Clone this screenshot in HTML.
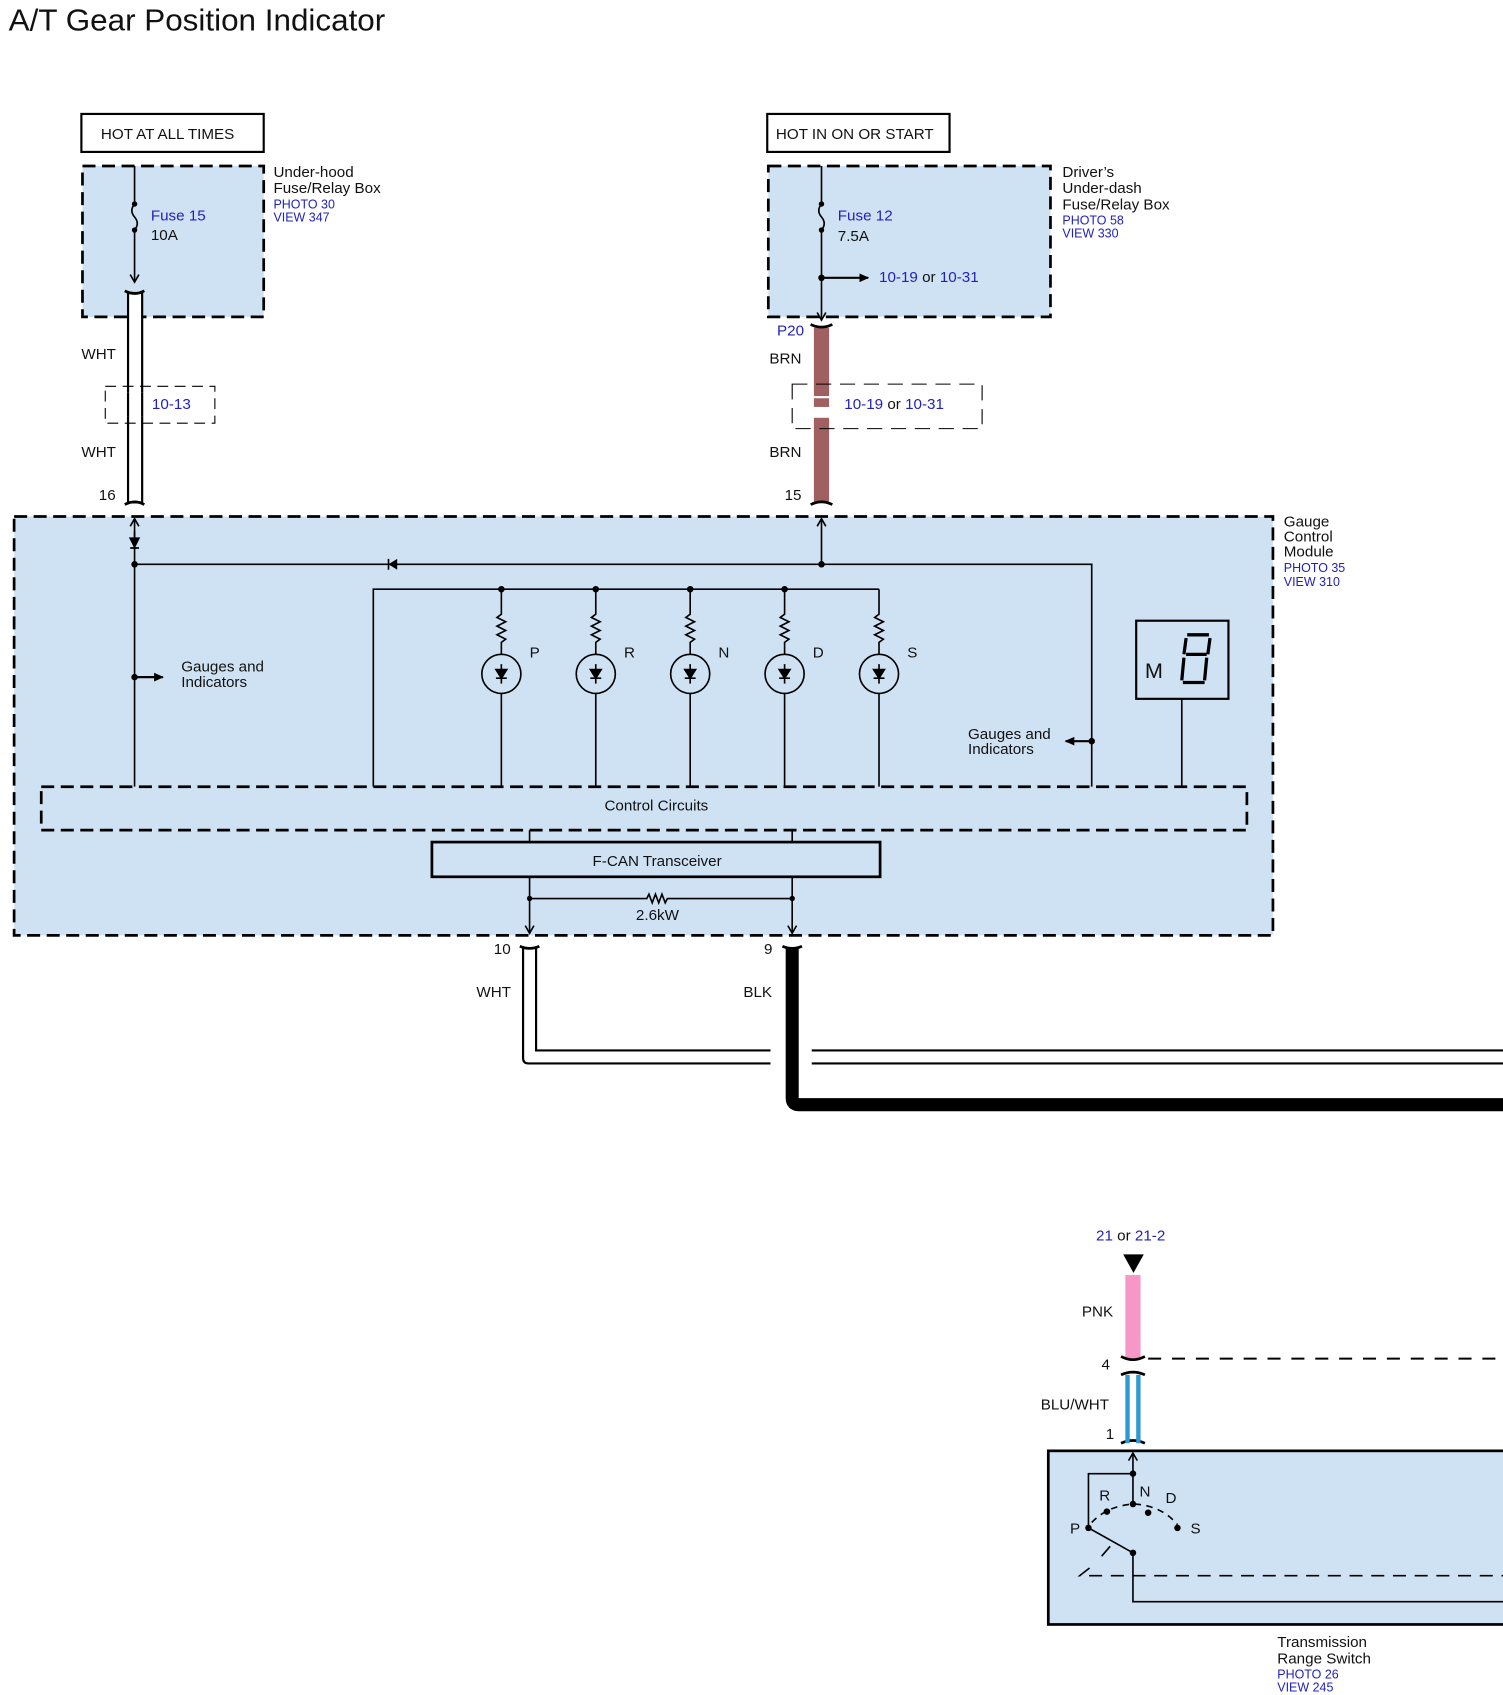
<!DOCTYPE html>
<html><head><meta charset="utf-8"><style>
html,body{margin:0;padding:0;background:#fff;}
svg{display:block}
text{font-family:"Liberation Sans",sans-serif;font-size:14px;fill:#111}
.b{fill:#2222bb}
.s{font-size:11.5px}
</style></head><body>
<svg width="1503" height="1695" viewBox="0 0 1385 1562" preserveAspectRatio="none" xmlns="http://www.w3.org/2000/svg">
<defs>
<marker id="a" markerWidth="10" markerHeight="10" refX="8" refY="5" orient="auto" markerUnits="userSpaceOnUse"><path d="M1,1 L8,5 L1,9" fill="none" stroke="#000" stroke-width="1.5"/></marker>
<marker id="af" markerWidth="10" markerHeight="10" refX="8" refY="5" orient="auto" markerUnits="userSpaceOnUse"><path d="M0,1 L9,5 L0,9z" fill="#000"/></marker>
</defs>
<text x="8" y="28" style="font-size:28px" textLength="347" lengthAdjust="spacingAndGlyphs">A/T Gear Position Indicator</text>

<!-- top left -->
<rect x="75" y="105" width="168" height="35" fill="#fff" stroke="#000" stroke-width="2"/>
<text x="93" y="128">HOT AT ALL TIMES</text>
<rect x="76" y="153" width="167" height="139" fill="#cfe2f3" stroke="#000" stroke-width="2.5" stroke-dasharray="12,6"/>
<text x="252" y="163">Under-hood</text><text x="252" y="178">Fuse/Relay Box</text>
<text x="252" y="192" class="b s">PHOTO 30</text><text x="252" y="204" class="b s">VIEW 347</text>
<path d="M124,153 V188 M124,212 V260" stroke="#000" stroke-width="1.5" marker-end="url(#a)"/>
<path d="M124,188 q-5,6 0,12 q5,6 0,12" stroke="#000" fill="none" stroke-width="1.5"/>
<circle cx="124" cy="188" r="2.5"/><circle cx="124" cy="212" r="2.5"/>
<text x="139" y="203" class="b">Fuse 15</text><text x="139" y="221">10A</text>
<rect x="118" y="270" width="13" height="193" fill="#fff" stroke="#000" stroke-width="2"/>
<path d="M115,268 q9,5 18,0 M115,465 q9,-5 18,0" stroke="#000" stroke-width="2.5" fill="none"/>
<text x="75" y="331">WHT</text><text x="75" y="421">WHT</text><text x="91" y="461">16</text>
<rect x="97" y="356" width="101" height="34" fill="none" stroke="#000" stroke-dasharray="10,6"/>
<rect x="112" y="362" width="26" height="22" fill="#fff"/>
<path d="M118,362 V384 M131,362 V384" stroke="#000" stroke-width="2"/>
<text x="140" y="377" class="b">10-13</text>

<!-- top middle -->
<rect x="707" y="105" width="168" height="35" fill="#fff" stroke="#000" stroke-width="2"/>
<text x="715" y="128">HOT IN ON OR START</text>
<rect x="708" y="153" width="260" height="139" fill="#cfe2f3" stroke="#000" stroke-width="2.5" stroke-dasharray="12,6"/>
<text x="979" y="163">Driver’s</text><text x="979" y="178">Under-dash</text><text x="979" y="193">Fuse/Relay Box</text>
<text x="979" y="207" class="b s">PHOTO 58</text><text x="979" y="219" class="b s">VIEW 330</text>
<path d="M757,153 V188 M757,212 V295" stroke="#000" stroke-width="1.5" marker-end="url(#a)"/>
<path d="M757,188 q-5,6 0,12 q5,6 0,12" stroke="#000" fill="none" stroke-width="1.5"/>
<circle cx="757" cy="188" r="2.5"/><circle cx="757" cy="212" r="2.5"/><circle cx="757" cy="256" r="3"/>
<path d="M757,256 H800" stroke="#000" stroke-width="2" marker-end="url(#af)"/>
<text x="772" y="203" class="b">Fuse 12</text><text x="772" y="222">7.5A</text>
<text x="810" y="260"><tspan class="b">10-19</tspan> or <tspan class="b">10-31</tspan></text>
<text x="716" y="309" class="b">P20</text>
<rect x="750" y="302" width="14" height="161" fill="#a0605f"/>
<path d="M747,299 q10,5 20,0 M747,465 q10,-5 20,0" stroke="#000" stroke-width="2.5" fill="none"/>
<text x="709" y="335">BRN</text><text x="709" y="421">BRN</text><text x="723" y="461">15</text>
<rect x="730" y="354" width="175" height="41" fill="none" stroke="#000" stroke-dasharray="14,8"/>
<rect x="745" y="365" width="24" height="20" fill="#fff"/>
<rect x="750" y="367" width="14" height="8" fill="#a0605f"/>
<text x="778" y="377"><tspan class="b">10-19</tspan> or <tspan class="b">10-31</tspan></text>

<!-- Gauge control module -->
<rect x="13" y="476" width="1160" height="386" fill="#cfe2f3" stroke="#000" stroke-width="2.5" stroke-dasharray="12,6"/>
<text x="1183" y="485">Gauge</text><text x="1183" y="499">Control</text><text x="1183" y="513">Module</text>
<text x="1183" y="527" class="b s">PHOTO 35</text><text x="1183" y="540" class="b s">VIEW 310</text>
<g stroke="#000" stroke-width="1.5" fill="none">
<path d="M124,725 V478" marker-end="url(#a)"/>
<path d="M124,490 V505 M120,505 H128"/>
<path d="M120,496 L124,504 L128,496z" fill="#000"/>
<path d="M124,520 H1006 V725"/>
<path d="M757,520 V478" marker-end="url(#a)"/>
<path d="M124,624 H150" stroke-width="2" marker-end="url(#af)"/>
<path d="M1006,683 H982" stroke-width="2" marker-end="url(#af)"/>
<path d="M344,725 V543 H810"/>
<path d="M1089,644 V725"/>
<path d="M488,765 V776 M730,765 V776"/>
<path d="M488,808 V860" marker-end="url(#a)"/>
<path d="M730,808 V860" marker-end="url(#a)"/>
<path d="M488,828 H596 l2,-4 l3,8 l3,-8 l3,8 l3,-8 l3,8 l2,-4 H730"/>
</g>
<path d="M358,520 L366,515 L366,525z" fill="#000"/><path d="M358,515 V525" stroke="#000" stroke-width="1.5"/>
<circle cx="124" cy="520" r="3"/><circle cx="757" cy="520" r="3"/><circle cx="124" cy="624" r="3"/><circle cx="1006" cy="683" r="3"/>
<circle cx="488" cy="828" r="2.5"/><circle cx="730" cy="828" r="2.5"/>
<g id="lamps" stroke="#000" stroke-width="1.5" fill="none">
<path d="M462,543 V566 l-4,3 l8,4 l-8,4 l8,4 l-8,4 l8,4 l-4,3 V603 M462,639 V725"/><circle cx="462" cy="621" r="18"/><path d="M462,612 V630 M457,625 H467"/><path d="M457,617 L467,617 L462,625z" fill="#000"/>
<path d="M549,543 V566 l-4,3 l8,4 l-8,4 l8,4 l-8,4 l8,4 l-4,3 V603 M549,639 V725"/><circle cx="549" cy="621" r="18"/><path d="M549,612 V630 M544,625 H554"/><path d="M544,617 L554,617 L549,625z" fill="#000"/>
<path d="M636,543 V566 l-4,3 l8,4 l-8,4 l8,4 l-8,4 l8,4 l-4,3 V603 M636,639 V725"/><circle cx="636" cy="621" r="18"/><path d="M636,612 V630 M631,625 H641"/><path d="M631,617 L641,617 L636,625z" fill="#000"/>
<path d="M723,543 V566 l-4,3 l8,4 l-8,4 l8,4 l-8,4 l8,4 l-4,3 V603 M723,639 V725"/><circle cx="723" cy="621" r="18"/><path d="M723,612 V630 M718,625 H728"/><path d="M718,617 L728,617 L723,625z" fill="#000"/>
<path d="M810,543 V566 l-4,3 l8,4 l-8,4 l8,4 l-8,4 l8,4 l-4,3 V603 M810,639 V725"/><circle cx="810" cy="621" r="18"/><path d="M810,612 V630 M805,625 H815"/><path d="M805,617 L815,617 L810,625z" fill="#000"/>
</g>
<circle cx="462" cy="543" r="3"/><circle cx="549" cy="543" r="3"/><circle cx="636" cy="543" r="3"/><circle cx="723" cy="543" r="3"/>
<text x="488" y="606">P</text><text x="575" y="606">R</text><text x="662" y="606">N</text><text x="749" y="606">D</text><text x="836" y="606">S</text>
<text x="167" y="619">Gauges and</text><text x="167" y="633">Indicators</text>
<text x="892" y="681">Gauges and</text><text x="892" y="695">Indicators</text>
<rect x="1047" y="572" width="85" height="72" fill="#cfe2f3" stroke="#000" stroke-width="2"/>
<text x="1055" y="625" style="font-size:20px">M</text>
<path d="M1094,585 h20 M1093,603 h19 M1090,629 h20 M1093,588 l-2,15 M1115,588 l-2,15 M1091,606 l-2,21 M1112,606 l-2,21" stroke="#000" stroke-width="3" fill="none"/>
<rect x="38" y="725" width="1111" height="40" fill="#cfe2f3" stroke="#000" stroke-width="2.5" stroke-dasharray="12,6"/>
<text x="557" y="747">Control Circuits</text>
<rect x="398" y="776" width="413" height="32" fill="#cfe2f3" stroke="#000" stroke-width="2.5"/>
<text x="546" y="798">F-CAN Transceiver</text>
<text x="586" y="848">2.6kW</text>

<!-- lower wires -->
<path d="M479,872 q9,4 18,0 M721,872 q9,4 18,0" stroke="#000" stroke-width="2.5" fill="none"/>
<path d="M482,874 V975 q0,5 5,5 H710 M494,874 V968 H710 M748,968 H1385 M748,980 H1385" stroke="#000" stroke-width="2" fill="none"/>
<path d="M730,874 V1012 q0,6 6,6 H1385" stroke="#000" stroke-width="12" fill="none"/>
<text x="455" y="879">10</text><text x="704" y="879">9</text>
<text x="439" y="919">WHT</text><text x="685" y="919">BLK</text>

<!-- bottom -->
<text x="1010" y="1143"><tspan class="b">21</tspan> or <tspan class="b">21-2</tspan></text>
<path d="M1035,1156 H1054 L1044.5,1173z" fill="#000"/>
<rect x="1037" y="1175" width="14" height="77" fill="#f797c8"/>
<path d="M1033,1250 q11,6 22,0 M1033,1267 q11,-5 22,0 M1033,1330 q11,-5 22,0" stroke="#000" stroke-width="2.5" fill="none"/>
<path d="M1058,1252 H1385" stroke="#000" stroke-width="1.8" stroke-dasharray="12,10"/>
<path d="M1039,1267 V1330 M1049,1267 V1330" stroke="#2a9ad0" stroke-width="4"/>
<text x="997" y="1213">PNK</text><text x="1015" y="1262">4</text><text x="959" y="1299">BLU/WHT</text><text x="1019" y="1326">1</text>
<rect x="966" y="1337" width="430" height="160" fill="#cfe2f3" stroke="#000" stroke-width="2.5"/>
<g stroke="#000" stroke-width="1.5" fill="none">
<path d="M1044,1386 V1339" marker-end="url(#a)"/>
<path d="M1044,1358 H1003 V1408 L1044,1431 V1476 H1385"/>
<path d="M1006,1403 Q1020,1388 1044,1386 Q1070,1387 1085,1405" stroke-dasharray="6,5"/>
<path d="M1023,1425 L1010,1440 M1004,1445 L995,1452 H1385" stroke-dasharray="12,8"/>
</g>
<circle cx="1044" cy="1358" r="3"/><circle cx="1044" cy="1386" r="3"/><circle cx="1020" cy="1393" r="3"/><circle cx="1058" cy="1394" r="3"/><circle cx="1085" cy="1408" r="3"/><circle cx="1003" cy="1408" r="3"/><circle cx="1044" cy="1431" r="3"/>
<text x="1013" y="1383">R</text><text x="1050" y="1379">N</text><text x="1074" y="1385">D</text><text x="1097" y="1413">S</text><text x="986" y="1413">P</text>
<text x="1177" y="1518">Transmission</text><text x="1177" y="1533">Range Switch</text>
<text x="1177" y="1547" class="b s">PHOTO 26</text><text x="1177" y="1559" class="b s">VIEW 245</text>
</svg>
</body></html>
